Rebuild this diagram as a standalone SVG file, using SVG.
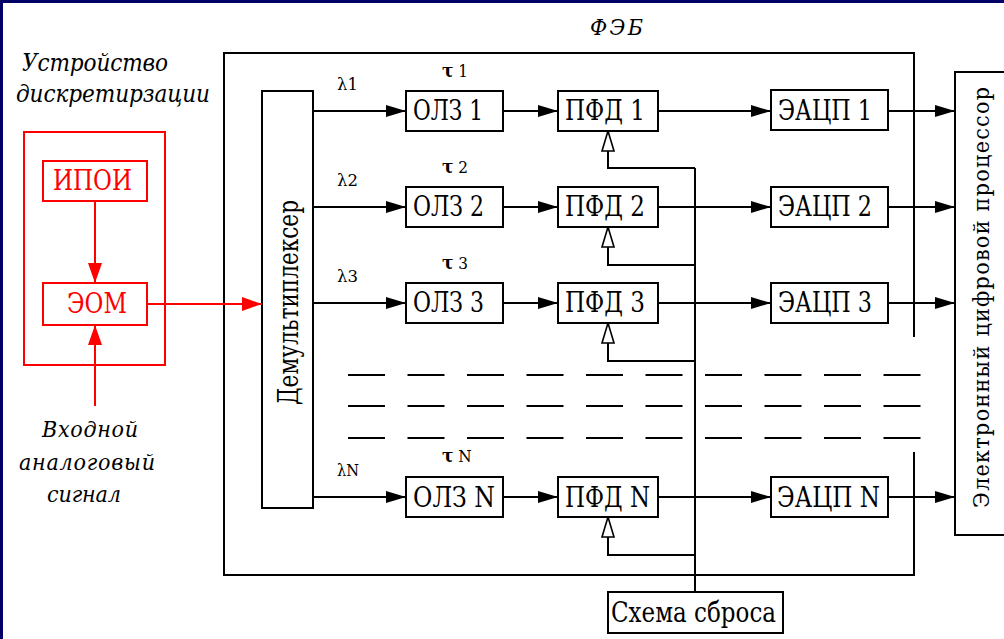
<svg xmlns="http://www.w3.org/2000/svg" width="1004" height="639" viewBox="0 0 1004 639">
  <style>
    .box { fill: #ffffff; stroke: #000000; stroke-width: 2; }
    .rbox { fill: #ffffff; stroke: #ff0000; stroke-width: 2; }
    .wire { fill: none; stroke: #000000; stroke-width: 2; }
    .rwire { fill: none; stroke: #ff0000; stroke-width: 2; }
    text { font-family: "DejaVu Serif Condensed", "DejaVu Serif", "Liberation Serif", serif; font-stretch: condensed; }
    .lbl { font-size: 27px; fill: #000000; }
    .rlbl { font-size: 27px; fill: #ff0000; }
    .note { font-size: 24px; font-style: italic; fill: #000000; }
    .note2 { font-size: 23px; font-style: italic; fill: #000000; }
    .ch { font-size: 17px; fill: #000000; }
    .dash { fill: none; stroke: #000000; stroke-width: 2; stroke-dasharray: 37 22.5; }
  </style>
  <defs>
    <marker id="arr" viewBox="0 0 20 12" refX="20" refY="6" markerWidth="20" markerHeight="12" markerUnits="userSpaceOnUse" orient="auto">
      <path d="M0,0 L20,6 L0,12 Z" fill="#000000"/>
    </marker>
    <marker id="arrOpen" viewBox="0 0 22 14" refX="21" refY="7" markerWidth="22" markerHeight="14" markerUnits="userSpaceOnUse" orient="auto">
      <path d="M1,1 L21,7 L1,13 Z" fill="#ffffff" stroke="#000000" stroke-width="1.6"/>
    </marker>
    <marker id="arrRed" viewBox="0 0 20 14" refX="20" refY="7" markerWidth="20" markerHeight="14" markerUnits="userSpaceOnUse" orient="auto">
      <path d="M0,0 L20,7 L0,14 Z" fill="#ff0000"/>
    </marker>
  </defs>

  <rect x="0" y="0" width="1004" height="639" fill="#ffffff"/>
  <!-- slide frame -->
  <rect x="0" y="0" width="1004" height="3" fill="#000066"/>
  <rect x="0" y="0" width="3" height="639" fill="#000066"/>

  <!-- sampling device (red) -->
  <g id="sampler">
    <rect class="rbox" x="24" y="132" width="141" height="233"/>
    <text class="note" x="22" y="71" textLength="146" lengthAdjust="spacing">Устройство</text>
    <text class="note" x="16" y="102" textLength="194" lengthAdjust="spacing">дискретирзации</text>
  </g>
  <g id="ipoi">
    <rect class="rbox" x="43" y="161" width="104" height="40"/>
    <text class="rlbl" x="53" y="190" textLength="79" lengthAdjust="spacingAndGlyphs">ИПОИ</text>
  </g>
  <g id="eom">
    <rect class="rbox" x="43" y="283" width="104" height="42"/>
    <text class="rlbl" x="67" y="313" textLength="60" lengthAdjust="spacingAndGlyphs">ЭОМ</text>
  </g>
  <g id="input-label">
    <text class="note2" x="42" y="437" textLength="96" lengthAdjust="spacing">Входной</text>
    <text class="note2" x="19" y="470" textLength="136" lengthAdjust="spacing">аналоговый</text>
    <text class="note2" x="47" y="502" textLength="74" lengthAdjust="spacing">сигнал</text>
  </g>

  <!-- photonic-electronic block frame (right edge broken at the ellipsis rows) -->
  <g id="feb">
    <path class="wire" d="M914,337 L914,53 L224,53 L224,575 L914,575 L914,452"/>
    <text class="note2" x="590" y="35" textLength="53" lengthAdjust="spacing">ФЭБ</text>
  </g>

  <g id="demux">
    <rect class="box" x="262" y="91" width="51" height="417"/>
    <text class="lbl" transform="translate(298,405) rotate(-90)" textLength="205" lengthAdjust="spacingAndGlyphs">Демультиплексер</text>
  </g>

  <!-- channel 1 -->
  <g id="olz1"><rect class="box" x="406" y="91" width="97" height="40"/><text class="lbl" x="413" y="120" textLength="70" lengthAdjust="spacingAndGlyphs">ОЛЗ 1</text></g>
  <g id="pfd1"><rect class="box" x="558" y="91" width="100" height="40"/><text class="lbl" x="565" y="120" textLength="80" lengthAdjust="spacingAndGlyphs">ПФД 1</text></g>
  <g id="eacp1"><rect class="box" x="771" y="90" width="117" height="40"/><text class="lbl" x="778" y="120" textLength="94" lengthAdjust="spacingAndGlyphs">ЭАЦП 1</text></g>
  <!-- channel 2 -->
  <g id="olz2"><rect class="box" x="406" y="187" width="97" height="40"/><text class="lbl" x="413" y="216" textLength="71" lengthAdjust="spacingAndGlyphs">ОЛЗ 2</text></g>
  <g id="pfd2"><rect class="box" x="558" y="187" width="100" height="40"/><text class="lbl" x="565" y="216" textLength="80" lengthAdjust="spacingAndGlyphs">ПФД 2</text></g>
  <g id="eacp2"><rect class="box" x="771" y="187" width="117" height="40"/><text class="lbl" x="778" y="216" textLength="94" lengthAdjust="spacingAndGlyphs">ЭАЦП 2</text></g>
  <!-- channel 3 -->
  <g id="olz3"><rect class="box" x="406" y="283" width="97" height="40"/><text class="lbl" x="413" y="312" textLength="71" lengthAdjust="spacingAndGlyphs">ОЛЗ 3</text></g>
  <g id="pfd3"><rect class="box" x="558" y="283" width="100" height="40"/><text class="lbl" x="565" y="312" textLength="80" lengthAdjust="spacingAndGlyphs">ПФД 3</text></g>
  <g id="eacp3"><rect class="box" x="771" y="283" width="117" height="40"/><text class="lbl" x="778" y="312" textLength="94" lengthAdjust="spacingAndGlyphs">ЭАЦП 3</text></g>
  <!-- channel N -->
  <g id="olzN"><rect class="box" x="406" y="477" width="97" height="40"/><text class="lbl" x="413" y="507" textLength="82" lengthAdjust="spacingAndGlyphs">ОЛЗ N</text></g>
  <g id="pfdN"><rect class="box" x="558" y="477" width="100" height="40"/><text class="lbl" x="565" y="507" textLength="85" lengthAdjust="spacingAndGlyphs">ПФД N</text></g>
  <g id="eacpN"><rect class="box" x="771" y="477" width="117" height="40"/><text class="lbl" x="777" y="507" textLength="103" lengthAdjust="spacingAndGlyphs">ЭАЦП N</text></g>

  <g id="reset">
    <rect class="box" x="608" y="592" width="175" height="41"/>
    <text class="lbl" x="611" y="622" textLength="165" lengthAdjust="spacingAndGlyphs">Схема сброса</text>
  </g>

  <g id="processor">
    <rect class="box" x="955" y="72" width="70" height="463"/>
    <text class="lbl" style="font-size:23px" transform="translate(989,508) rotate(-90)" textLength="421" lengthAdjust="spacing">Электронный  цифровой  процессор</text>
  </g>

  <!-- wavelength / delay labels -->
  <g id="channel-labels">
    <text class="ch" x="337" y="90" textLength="21" lengthAdjust="spacingAndGlyphs">λ1</text>
    <text class="ch" x="337" y="186" textLength="21" lengthAdjust="spacingAndGlyphs">λ2</text>
    <text class="ch" x="337" y="282" textLength="21" lengthAdjust="spacingAndGlyphs">λ3</text>
    <text class="ch" x="337" y="476" textLength="22" lengthAdjust="spacingAndGlyphs">λN</text>
    <text class="ch" x="442" y="77"><tspan font-weight="bold" font-size="19">τ</tspan> 1</text>
    <text class="ch" x="442" y="173"><tspan font-weight="bold" font-size="19">τ</tspan> 2</text>
    <text class="ch" x="442" y="269"><tspan font-weight="bold" font-size="19">τ</tspan> 3</text>
    <text class="ch" x="442" y="462"><tspan font-weight="bold" font-size="19">τ</tspan> N</text>
  </g>

  <!-- ellipsis rows between channel 3 and channel N -->
  <g id="ellipsis">
    <line class="dash" x1="348" y1="375" x2="922" y2="375"/>
    <line class="dash" x1="348" y1="406" x2="922" y2="406"/>
    <line class="dash" x1="348" y1="438" x2="922" y2="438"/>
  </g>

  <g id="connectors">
    <!-- sampler, red -->
    <line class="rwire" x1="95" y1="201" x2="95" y2="283" marker-end="url(#arrRed)"/>
    <line class="rwire" x1="95" y1="406" x2="95" y2="325" marker-end="url(#arrRed)"/>
    <line class="rwire" x1="147" y1="304" x2="262" y2="304" marker-end="url(#arrRed)"/>

    <!-- demux to delay lines -->
    <line class="wire" x1="313" y1="111" x2="406" y2="111" marker-end="url(#arr)"/>
    <line class="wire" x1="313" y1="207" x2="406" y2="207" marker-end="url(#arr)"/>
    <line class="wire" x1="313" y1="303" x2="406" y2="303" marker-end="url(#arr)"/>
    <line class="wire" x1="313" y1="497" x2="406" y2="497" marker-end="url(#arr)"/>

    <!-- delay lines to photodetectors -->
    <line class="wire" x1="503" y1="111" x2="558" y2="111" marker-end="url(#arr)"/>
    <line class="wire" x1="503" y1="207" x2="558" y2="207" marker-end="url(#arr)"/>
    <line class="wire" x1="503" y1="303" x2="558" y2="303" marker-end="url(#arr)"/>
    <line class="wire" x1="503" y1="497" x2="558" y2="497" marker-end="url(#arr)"/>

    <!-- photodetectors to ADCs -->
    <line class="wire" x1="658" y1="111" x2="771" y2="111" marker-end="url(#arr)"/>
    <line class="wire" x1="658" y1="207" x2="771" y2="207" marker-end="url(#arr)"/>
    <line class="wire" x1="658" y1="303" x2="771" y2="303" marker-end="url(#arr)"/>
    <line class="wire" x1="658" y1="497" x2="771" y2="497" marker-end="url(#arr)"/>

    <!-- ADCs to processor -->
    <line class="wire" x1="888" y1="111" x2="955" y2="111" marker-end="url(#arr)"/>
    <line class="wire" x1="888" y1="207" x2="955" y2="207" marker-end="url(#arr)"/>
    <line class="wire" x1="888" y1="303" x2="955" y2="303" marker-end="url(#arr)"/>
    <line class="wire" x1="888" y1="497" x2="955" y2="497" marker-end="url(#arr)"/>

    <!-- reset bus -->
    <line class="wire" x1="695" y1="168" x2="695" y2="592"/>
    <path class="wire" d="M695,168 L608,168 L608,131" marker-end="url(#arrOpen)"/>
    <path class="wire" d="M695,265 L608,265 L608,227" marker-end="url(#arrOpen)"/>
    <path class="wire" d="M695,361 L608,361 L608,323" marker-end="url(#arrOpen)"/>
    <path class="wire" d="M695,555 L608,555 L608,517" marker-end="url(#arrOpen)"/>
  </g>
</svg>
